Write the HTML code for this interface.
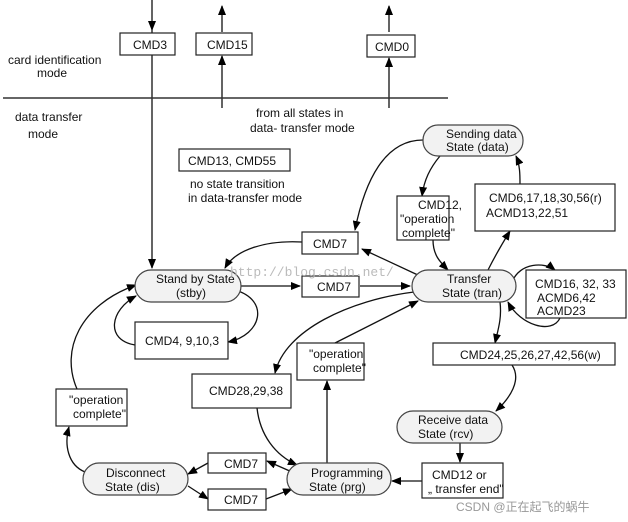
<!DOCTYPE html>
<html><head><meta charset="utf-8"><style>
body{margin:0;background:#fff;width:628px;height:522px;overflow:hidden}
svg{display:block}
text{font-family:"Liberation Sans",Arial,sans-serif;font-size:12px;fill:#111}
.b{fill:#fff;stroke:#222;stroke-width:1.2}
.p{fill:#f2f2f2;stroke:#444;stroke-width:1.2}
.l{fill:none;stroke:#111;stroke-width:1.3}
</style></head><body>
<svg width="628" height="522" viewBox="0 0 628 522" xmlns="http://www.w3.org/2000/svg">
<defs><marker id="a" markerWidth="10" markerHeight="8" refX="9" refY="4" orient="auto" markerUnits="userSpaceOnUse"><path d="M0,0 L10,4 L0,8 z" fill="#000"/></marker></defs>

<!-- top vertical lines -->
<path class="l" d="M152,0 V30" marker-end="url(#a)"/>
<path class="l" d="M152,30 V268" marker-end="url(#a)"/>
<path class="l" d="M222,32 V6" marker-end="url(#a)"/>
<path class="l" d="M222,108 V56" marker-end="url(#a)"/>
<path class="l" d="M389,32 V6" marker-end="url(#a)"/>
<path class="l" d="M389,108 V58" marker-end="url(#a)"/>
<line x1="3" y1="98" x2="448" y2="98" stroke="#333" stroke-width="1.5"/>

<!-- connectors -->
<path class="l" d="M423,140 C385,140 365,180 355,230" marker-end="url(#a)"/>
<path class="l" d="M302,242 C265,240 235,250 225,268" marker-end="url(#a)"/>
<path class="l" d="M420,276 L362,249" marker-end="url(#a)"/>
<path class="l" d="M440,156 C430,168 424,180 422,196" marker-end="url(#a)"/>
<path class="l" d="M433,240 C433,255 440,262 448,270" marker-end="url(#a)"/>
<path class="l" d="M488,270 C495,256 502,244 510,231" marker-end="url(#a)"/>
<path class="l" d="M520,184 C520,175 520,165 516,156" marker-end="url(#a)"/>
<path class="l" d="M241,286 H300" marker-end="url(#a)"/>
<path class="l" d="M360,286 H410" marker-end="url(#a)"/>
<path class="l" d="M235,290 C270,300 262,335 228,342" marker-end="url(#a)"/>
<path class="l" d="M135,345 C105,340 110,310 136,296" marker-end="url(#a)"/>
<path class="l" d="M512,282 C520,262 545,262 555,270" marker-end="url(#a)"/>
<path class="l" d="M560,318 C552,335 520,325 508,302" marker-end="url(#a)"/>
<path class="l" d="M500,302 C502,318 498,330 495,343" marker-end="url(#a)"/>
<path class="l" d="M512,365 C522,380 510,398 496,411" marker-end="url(#a)"/>
<path class="l" d="M460,443 V462" marker-end="url(#a)"/>
<path class="l" d="M422,481 H392" marker-end="url(#a)"/>
<path class="l" d="M414,292 C350,300 285,330 275,373" marker-end="url(#a)"/>
<path class="l" d="M257,408 C260,435 275,455 297,465" marker-end="url(#a)"/>
<path class="l" d="M327,463 V381" marker-end="url(#a)"/>
<path class="l" d="M335,343 L418,301" marker-end="url(#a)"/>
<path class="l" d="M292,472 L267,461" marker-end="url(#a)"/>
<path class="l" d="M208,463 L188,474" marker-end="url(#a)"/>
<path class="l" d="M188,486 L208,499" marker-end="url(#a)"/>
<path class="l" d="M266,499 L292,489" marker-end="url(#a)"/>
<path class="l" d="M85,472 C68,465 64,445 69,427" marker-end="url(#a)"/>
<path class="l" d="M77,389 C60,350 80,305 136,285" marker-end="url(#a)"/>

<!-- boxes -->
<rect class="b" x="120" y="33" width="55" height="22"/><text x="133" y="49">CMD3</text>
<rect class="b" x="196" y="33" width="56" height="22"/><text x="207" y="49">CMD15</text>
<rect class="b" x="367" y="35" width="48" height="22"/><text x="375" y="51">CMD0</text>
<rect class="b" x="179" y="149" width="111" height="22"/><text x="188" y="165">CMD13, CMD55</text>
<rect class="b" x="397" y="196" width="52" height="44"/>
<text x="418" y="209">CMD12,</text><text x="400" y="223">"operation</text><text x="402" y="237">complete"</text>
<rect class="b" x="475" y="184" width="140" height="47"/>
<text x="489" y="202">CMD6,17,18,30,56(r)</text><text x="486" y="217">ACMD13,22,51</text>
<rect class="b" x="302" y="232" width="56" height="22"/><text x="313" y="248">CMD7</text>
<rect class="b" x="302" y="276" width="57" height="21"/><text x="317" y="291">CMD7</text>
<rect class="b" x="526" y="270" width="100" height="48"/>
<text x="535" y="288">CMD16, 32, 33</text><text x="537" y="302">ACMD6,42</text><text x="537" y="315">ACMD23</text>
<rect class="b" x="135" y="322" width="93" height="37"/><text x="145" y="345">CMD4, 9,10,3</text>
<rect class="b" x="433" y="343" width="182" height="22"/><text x="460" y="359">CMD24,25,26,27,42,56(w)</text>
<rect class="b" x="297" y="343" width="67" height="37"/>
<text x="309" y="358">"operation</text><text x="313" y="372">complete"</text>
<rect class="b" x="192" y="374" width="99" height="34"/><text x="209" y="395">CMD28,29,38</text>
<rect class="b" x="56" y="389" width="71" height="37"/>
<text x="69" y="404">"operation</text><text x="73" y="418">complete"</text>
<rect class="b" x="208" y="453" width="58" height="20"/><text x="224" y="468">CMD7</text>
<rect class="b" x="208" y="489" width="58" height="21"/><text x="224" y="504">CMD7</text>
<rect class="b" x="422" y="463" width="81" height="35"/>
<text x="432" y="479">CMD12 or</text><text x="428" y="493">„ transfer end"</text>

<!-- pills -->
<rect class="p" x="423" y="125" width="100" height="31" rx="15"/>
<text x="446" y="138">Sending data</text><text x="446" y="151">State (data)</text>
<rect class="p" x="135" y="270" width="106" height="32" rx="16"/>
<text x="156" y="283">Stand by State</text><text x="176" y="297">(stby)</text>
<rect class="p" x="412" y="270" width="104" height="32" rx="16"/>
<text x="447" y="283">Transfer</text><text x="442" y="297">State (tran)</text>
<rect class="p" x="397" y="411" width="105" height="32" rx="16"/>
<text x="418" y="424">Receive data</text><text x="418" y="438">State (rcv)</text>
<rect class="p" x="83" y="463" width="105" height="32" rx="16"/>
<text x="106" y="477">Disconnect</text><text x="105" y="491">State (dis)</text>
<rect class="p" x="287" y="463" width="104" height="32" rx="16"/>
<text x="311" y="477">Programming</text><text x="309" y="491">State (prg)</text>

<!-- labels -->
<text x="8" y="64">card identification</text><text x="37" y="77">mode</text>
<text x="15" y="121">data transfer</text><text x="28" y="138">mode</text>
<text x="256" y="117">from all states in</text><text x="250" y="132">data- transfer mode</text>
<text x="190" y="188">no state transition</text><text x="188" y="202">in data-transfer mode</text>
<text x="230" y="276" style="font-family:'Liberation Mono',monospace;font-size:13px;fill:#bbb">http://blog.csdn.net/</text>
<text x="456" y="511" style="font-size:12px;fill:#999;font-family:'Liberation Sans','Noto Sans CJK SC',sans-serif">CSDN @正在起飞的蜗牛</text>
</svg>
</body></html>
